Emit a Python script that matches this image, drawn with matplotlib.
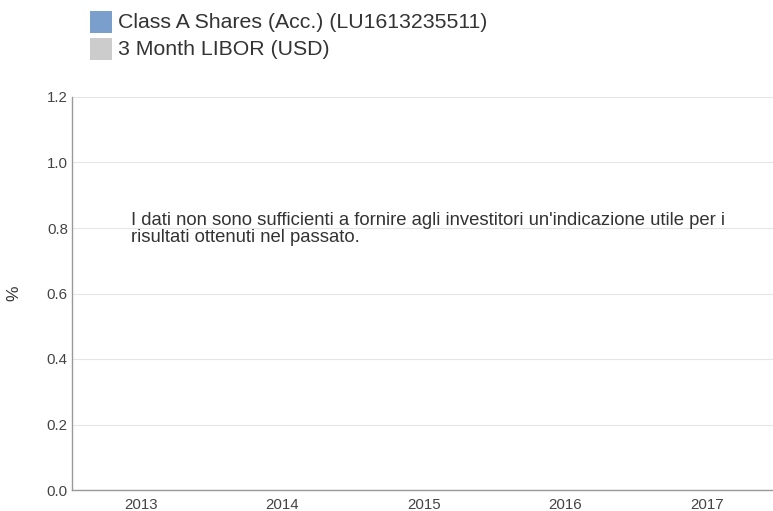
import matplotlib.pyplot as plt
from matplotlib.patches import Rectangle
import numpy as np

plt.rcParams["font.family"] = ["Liberation Sans", "DejaVu Sans"]

years = ["2013", "2014", "2015", "2016", "2017"]
series_names = ["Class A Shares (Acc.) (LU1613235511)", "3 Month LIBOR (USD)"]
series_colors = ["#7b9fcc", "#cccccc"]
y_ticks = [0.0, 0.2, 0.4, 0.6, 0.8, 1.0, 1.2]
note = ("I dati non sono sufficienti a fornire agli investitori un'indicazione utile per i\n"
        "risultati ottenuti nel passato.")

W, H = 773, 511
fig = plt.figure(figsize=(W / 100, H / 100), dpi=100)
ax = fig.add_axes([72 / W, 21 / H, 701 / W, 393 / H])

x = np.arange(len(years))
ax.set_xlim(-0.484, 4.467)
ax.set_ylim(0, 1.2)
ax.set_xticks(x)
ax.set_xticklabels(years)
ax.set_yticks(y_ticks)
ax.set_yticklabels([f"{v:.1f}" for v in y_ticks])
ax.tick_params(length=0, labelsize=10.8, colors="#444444")
ax.tick_params(axis="x", pad=5.5)
ax.tick_params(axis="y", pad=3)
ax.grid(axis="y", color="#e6e6e6", lw=0.8)
ax.set_axisbelow(True)
for s in ["top", "right"]:
    ax.spines[s].set_visible(False)
for s in ["left", "bottom"]:
    ax.spines[s].set_color("#999999")
    ax.spines[s].set_linewidth(1)

ax.set_ylabel("%", fontsize=12.5, color="#333333")
ax.yaxis.set_label_coords(-0.072, 0.5)

ax.text(0.084, 0.664, note, transform=ax.transAxes, fontsize=13.3,
        color="#333333", va="center", ha="left", linespacing=0.95)

# legend drawn by hand in pixel units of the figure
for i, (name, col) in enumerate(zip(series_names, series_colors)):
    top = 11 + i * 27
    fig.patches.append(Rectangle((90 / W, 1 - (top + 22) / H), 22 / W, 22 / H,
                                 transform=fig.transFigure, facecolor=col,
                                 edgecolor="none"))
    fig.text(118 / W, 1 - (top + 11.5) / H, name, fontsize=15.3,
             color="#333333", va="center", ha="left")

fig.savefig("out.png", dpi=100)
